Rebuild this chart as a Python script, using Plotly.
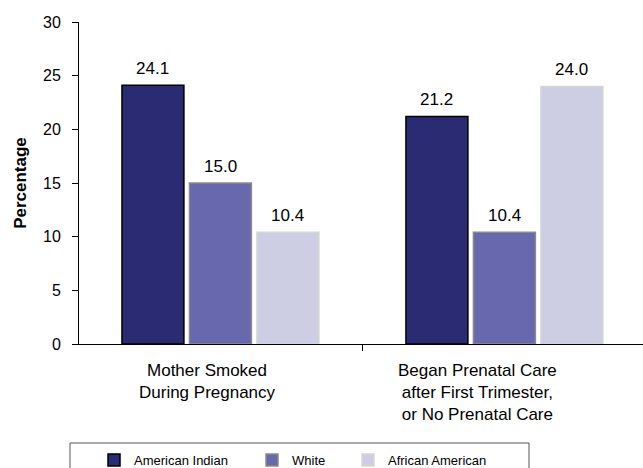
import plotly.graph_objects as go

categories = ["Mother Smoked<br>During Pregnancy",
              "Began Prenatal Care<br>after First Trimester,<br>or No Prenatal Care"]
series_names = ["American Indian", "White", "African American"]
american_indian = [24.1, 21.2]
white = [15.0, 10.4]
african_american = [10.4, 24.0]
y_ticks = [0, 5, 10, 15, 20, 25, 30]

series_values = [american_indian, white, african_american]
fills = ["#2B2B73", "#6868AE", "#CDCDE4"]
outlines = ["#000000", "#8A8A8A", "#D6D6D6"]

W, H = 643, 468
ML, MR, MT, MB = 79, 0, 22, 124
PW, PH = W - ML - MR, H - MT - MB
FONT = "Arial, Liberation Sans, sans-serif"

def px_x(p):
    return (p - ML) / PW

def px_y(p):
    return (H - MB - p) / PH

fig = go.Figure()
legend_ids = ["legend", "legend2", "legend3"]
for j, (name, vals) in enumerate(zip(series_names, series_values)):
    fig.add_trace(go.Bar(
        x=categories, y=vals, name=name,
        marker=dict(color=fills[j], line=dict(color=outlines[j], width=1.5)),
        legend=legend_ids[j],
        hoverinfo="skip",
    ))
    for c, v in zip(categories, vals):
        fig.add_annotation(x=c, y=v, xref="x", yref="y", text=f"{v:.1f}",
                           showarrow=False, yanchor="bottom",
                           xshift=(j - 1) * 67.5, yshift=5,
                           font=dict(size=17, color="black", family=FONT))

label_shift = [-13, -27]
for c, s in zip(categories, label_shift):
    fig.add_annotation(x=c, y=0, xref="x", yref="paper", text=c,
                       showarrow=False, yanchor="top", xshift=s, yshift=-15,
                       font=dict(size=17, color="black", family=FONT))

legend_text_px = [134, 292, 388]
legend_common = dict(orientation="h", yanchor="top", xanchor="left",
                     bgcolor="rgba(0,0,0,0)", borderwidth=0,
                     font=dict(size=13, color="black", family=FONT))
layout_legends = {}
for lid, tx in zip(legend_ids, legend_text_px):
    layout_legends[lid] = dict(x=px_x(tx - 40), y=px_y(445), **legend_common)

fig.add_shape(type="rect", xref="paper", yref="paper",
              x0=px_x(70), x1=px_x(529), y0=px_y(443), y1=px_y(490),
              line=dict(color="#555555", width=1), fillcolor="rgba(0,0,0,0)")

fig.update_layout(
    width=W, height=H,
    margin=dict(l=ML, r=MR, t=MT, b=MB, autoexpand=False),
    paper_bgcolor="white", plot_bgcolor="white",
    barmode="group", bargap=0.287, bargroupgap=0.082,
    showlegend=True,
    font=dict(family=FONT, color="black"),
    **layout_legends,
)
fig.update_xaxes(type="category", range=[-0.498, 1.488],
                 showticklabels=False, showline=True, linecolor="black",
                 linewidth=1, ticks="outside", tickson="boundaries",
                 ticklen=6, tickcolor="black", showgrid=False, zeroline=False)
fig.update_yaxes(range=[0, 30], tickvals=y_ticks, showline=True,
                 linecolor="black", linewidth=1, ticks="outside", ticklen=6,
                 tickcolor="black", showgrid=False, zeroline=False,
                 ticklabelstandoff=8,
                 tickfont=dict(size=16, color="black", family=FONT),
                 title=dict(text="<b>Percentage</b>", standoff=12,
                            font=dict(size=17, color="black", family=FONT)))

fig.write_html(
    "out.html",
    config={"displayModeBar": False},
    post_script="document.body.style.margin='0';"
                "document.body.style.overflow='hidden';",
)
